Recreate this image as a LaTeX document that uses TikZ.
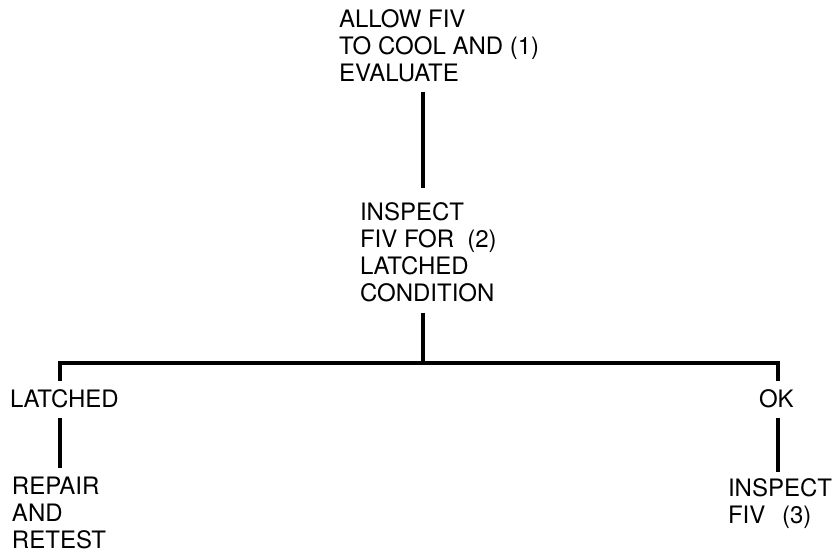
\documentclass[tikz,border=0pt]{standalone}
\usepackage{fontspec}
\setmainfont{TeX Gyre Heros}
\begin{document}
\begin{tikzpicture}[x=1pt,y=-1pt,
  lbl/.style={anchor=base west,inner sep=0pt,outer sep=0pt,align=left,
    font={\fontsize{24}{26.8}\selectfont}},
  conn/.style={line width=4.3pt,line join=miter,line cap=butt}]
\useasboundingbox (0,0) rectangle (834,551);
% text nodes (anchored at the baseline of their last line)
\node[lbl] (n1) at (339,81) {ALLOW FIV\\TO COOL AND (1)\\EVALUATE};
\node[lbl] (n2) at (360,301) {INSPECT\\FIV FOR\hspace{0.55em}(2)\\LATCHED\\CONDITION};
\node[lbl] (n3) at (10,407) {LATCHED};
\node[lbl] (n4) at (759,407) {OK};
\node[lbl] (n5) at (12,548) {REPAIR\\AND\\RETEST};
\node[lbl] (n6) at (728,523) {INSPECT\\FIV\hspace{0.7em}(3)};
% connector end points
\coordinate (a1) at (423,91.5);
\coordinate (a2) at (423,188);
\coordinate (b1) at (423,312.7);
\coordinate (fork) at (423,362.7);
\coordinate (lc) at (60,362.7);
\coordinate (rc) at (778,362.7);
\coordinate (ld) at (60,381);
\coordinate (rd) at (778,381);
\coordinate (l1) at (60,418);
\coordinate (l2) at (60,468);
\coordinate (r1) at (778,418);
\coordinate (r2) at (778,472);
% connectors
\draw[conn] (a1) -- (a2);
\draw[conn] (b1) -- (fork);
\draw[conn] (ld) -- (lc) -- (rc) -- (rd);
\draw[conn] (l1) -- (l2);
\draw[conn] (r1) -- (r2);
\end{tikzpicture}
\end{document}
